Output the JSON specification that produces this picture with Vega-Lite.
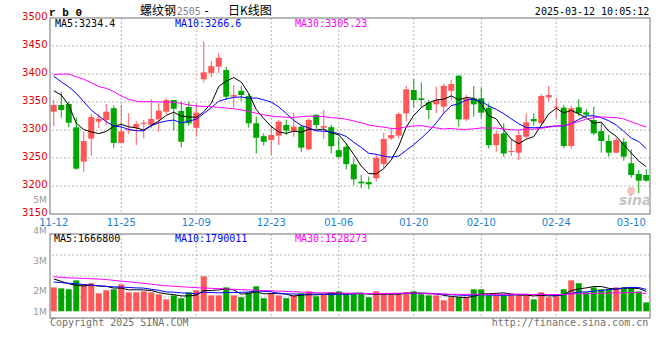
{
"$schema": "https://vega.github.io/schema/vega-lite/v6.json",
"background": "white",
"padding": {"left": 20, "top": 3, "right": 2, "bottom": 2},
"spacing": 20,
"bounds": "flush",
"config": {"view": {"stroke": "#a0a0a0", "strokeWidth": 1.5}, "font": "DejaVu Sans"},
"datasets": {
"k": [
{"d":"2024-11-12","o":3332.7,"h":3353.6,"l":3307,"c":3344.6,"v":1920000,"m5":3370,"m10":3396,"m30":3398.8,"vm5":2450000,"vm10":2260000,"vm30":2580000},
{"d":"2024-11-13","o":3344.6,"h":3368.5,"l":3322,"c":3335.7,"v":1860000,"m5":3362.5,"m10":3386,"m30":3400,"vm5":2300000,"vm10":2220000,"vm30":2550000},
{"d":"2024-11-14","o":3346.4,"h":3350.6,"l":3304.8,"c":3313,"v":1800000,"m5":3344.6,"m10":3377,"m30":3400,"vm5":2150000,"vm10":2180000,"vm30":2520000},
{"d":"2024-11-15","o":3304.8,"h":3322,"l":3229,"c":3231,"v":2360000,"m5":3312,"m10":3365.5,"m30":3395,"vm5":2050000,"vm10":2140000,"vm30":2500000},
{"d":"2024-11-18","o":3243.5,"h":3297,"l":3225.6,"c":3280.4,"v":2110000,"m5":3300.9,"m10":3350.6,"m30":3390.5,"vm5":2010000,"vm10":2100000,"vm30":2480000},
{"d":"2024-11-19","o":3284.5,"h":3328.6,"l":3254,"c":3323,"v":2180000,"m5":3296.6,"m10":3335.7,"m30":3384.5,"vm5":2062000,"vm10":2060000,"vm30":2460000},
{"d":"2024-11-20","o":3315,"h":3328.6,"l":3303,"c":3320,"v":1550000,"m5":3293.5,"m10":3325,"m30":3377.4,"vm5":2000000,"vm10":2020000,"vm30":2440000},
{"d":"2024-11-21","o":3318,"h":3346,"l":3309,"c":3332.7,"v":1740000,"m5":3297.4,"m10":3315,"m30":3374.4,"vm5":1988000,"vm10":1980000,"vm30":2410000},
{"d":"2024-11-22","o":3339,"h":3344,"l":3268,"c":3277,"v":1800000,"m5":3306.6,"m10":3307,"m30":3368.5,"vm5":1876000,"vm10":1950000,"vm30":2360000},
{"d":"2024-11-25","o":3277,"h":3344.6,"l":3277,"c":3297.6,"v":2110000,"m5":3310.1,"m10":3305.5,"m30":3360.7,"vm5":1876000,"vm10":1943000,"vm30":2310000},
{"d":"2024-11-26","o":3299,"h":3330,"l":3293,"c":3301,"v":1610000,"m5":3305.7,"m10":3301.1,"m30":3354.8,"vm5":1762000,"vm10":1912000,"vm30":2270000},
{"d":"2024-11-27","o":3304,"h":3316,"l":3273,"c":3310.7,"v":1610000,"m5":3303.8,"m10":3298.6,"m30":3351.2,"vm5":1774000,"vm10":1887000,"vm30":2220000},
{"d":"2024-11-28","o":3311,"h":3318,"l":3285,"c":3313,"v":1670000,"m5":3299.9,"m10":3298.6,"m30":3350.6,"vm5":1760000,"vm10":1874000,"vm30":2170000},
{"d":"2024-11-29","o":3309,"h":3355,"l":3303,"c":3319.6,"v":1610000,"m5":3308.4,"m10":3307.5,"m30":3350.6,"vm5":1722000,"vm10":1799000,"vm30":2120000},
{"d":"2024-12-02","o":3319,"h":3347.6,"l":3297,"c":3334.5,"v":1490000,"m5":3315.8,"m10":3312.9,"m30":3350,"vm5":1598000,"vm10":1737000,"vm30":2060000},
{"d":"2024-12-03","o":3332.7,"h":3356.5,"l":3328.6,"c":3353.6,"v":1170000,"m5":3326.3,"m10":3316,"m30":3350,"vm5":1510000,"vm10":1636000,"vm30":2020000},
{"d":"2024-12-04","o":3353.6,"h":3353.6,"l":3299,"c":3338,"v":1420000,"m5":3331.7,"m10":3317.8,"m30":3349.4,"vm5":1472000,"vm10":1623000,"vm30":1990000},
{"d":"2024-12-05","o":3334,"h":3350.6,"l":3269,"c":3279,"v":1240000,"m5":3324.9,"m10":3312.4,"m30":3347.6,"vm5":1386000,"vm10":1573000,"vm30":1960000},
{"d":"2024-12-06","o":3341,"h":3350,"l":3307.7,"c":3312,"v":1610000,"m5":3323.4,"m10":3315.9,"m30":3344.6,"vm5":1386000,"vm10":1554000,"vm30":1930000},
{"d":"2024-12-09","o":3304,"h":3347.6,"l":3288,"c":3331,"v":1740000,"m5":3322.7,"m10":3319.2,"m30":3342.9,"vm5":1436000,"vm10":1517000,"vm30":1900000},
{"d":"2024-12-10","o":3390.5,"h":3457.7,"l":3384.5,"c":3403,"v":2610000,"m5":3332.6,"m10":3329.4,"m30":3342,"vm5":1724000,"vm10":1617000,"vm30":1880000},
{"d":"2024-12-11","o":3402,"h":3423,"l":3395,"c":3414,"v":1420000,"m5":3347.8,"m10":3339.8,"m30":3341.5,"vm5":1724000,"vm10":1598000,"vm30":1860000},
{"d":"2024-12-12","o":3413,"h":3438,"l":3402,"c":3429,"v":1420000,"m5":3377.8,"m10":3351.4,"m30":3340.5,"vm5":1760000,"vm10":1573000,"vm30":1840000},
{"d":"2024-12-13","o":3407,"h":3413,"l":3353.6,"c":3359.5,"v":1920000,"m5":3387.3,"m10":3355.4,"m30":3339,"vm5":1822000,"vm10":1604000,"vm30":1820000},
{"d":"2024-12-16","o":3359.5,"h":3380,"l":3340,"c":3362.5,"v":1420000,"m5":3393.6,"m10":3358.2,"m30":3338,"vm5":1758000,"vm10":1597000,"vm30":1800000},
{"d":"2024-12-17","o":3370,"h":3378.6,"l":3352,"c":3362.5,"v":1300000,"m5":3385.5,"m10":3359.1,"m30":3336,"vm5":1496000,"vm10":1610000,"vm30":1780000},
{"d":"2024-12-18","o":3360.7,"h":3365.5,"l":3304,"c":3312,"v":1610000,"m5":3365.1,"m10":3356.5,"m30":3333,"vm5":1534000,"vm10":1629000,"vm30":1760000},
{"d":"2024-12-19","o":3312,"h":3324,"l":3258,"c":3286,"v":1990000,"m5":3336.5,"m10":3357.2,"m30":3330,"vm5":1648000,"vm10":1704000,"vm30":1740000},
{"d":"2024-12-20","o":3289,"h":3294,"l":3272,"c":3279,"v":1240000,"m5":3320.4,"m10":3353.9,"m30":3327,"vm5":1512000,"vm10":1667000,"vm30":1720000},
{"d":"2024-12-23","o":3282,"h":3308,"l":3255,"c":3291,"v":1550000,"m5":3306.1,"m10":3349.9,"m30":3324.9,"vm5":1538000,"vm10":1648000,"vm30":1703000},
{"d":"2024-12-24","o":3290,"h":3318,"l":3273,"c":3315,"v":1420000,"m5":3296.6,"m10":3341.1,"m30":3323.9,"vm5":1562000,"vm10":1529000,"vm30":1686000},
{"d":"2024-12-25","o":3309,"h":3318,"l":3291,"c":3299,"v":1240000,"m5":3294,"m10":3329.6,"m30":3322.7,"vm5":1488000,"vm10":1511000,"vm30":1665000},
{"d":"2024-12-26","o":3298,"h":3331,"l":3288,"c":3306,"v":1420000,"m5":3298,"m10":3317.3,"m30":3322.4,"vm5":1374000,"vm10":1511000,"vm30":1653000},
{"d":"2024-12-27","o":3306,"h":3309,"l":3261,"c":3268.5,"v":1550000,"m5":3295.9,"m10":3308.2,"m30":3323.7,"vm5":1436000,"vm10":1474000,"vm30":1626000},
{"d":"2024-12-30","o":3265.5,"h":3321,"l":3264,"c":3318,"v":1670000,"m5":3301.3,"m10":3303.7,"m30":3324.9,"vm5":1460000,"vm10":1499000,"vm30":1611000},
{"d":"2024-12-31","o":3327,"h":3328.6,"l":3302,"c":3309,"v":1360000,"m5":3300.1,"m10":3298.4,"m30":3324.5,"vm5":1448000,"vm10":1505000,"vm30":1584000},
{"d":"2025-01-02","o":3304,"h":3336,"l":3284,"c":3307,"v":1490000,"m5":3301.7,"m10":3297.9,"m30":3324,"vm5":1498000,"vm10":1493000,"vm30":1582000},
{"d":"2025-01-03","o":3305,"h":3309,"l":3258,"c":3271,"v":1610000,"m5":3294.7,"m10":3296.4,"m30":3322,"vm5":1536000,"vm10":1455000,"vm30":1577000},
{"d":"2025-01-06","o":3264,"h":3287,"l":3249,"c":3252,"v":1670000,"m5":3291.4,"m10":3293.7,"m30":3321.1,"vm5":1560000,"vm10":1498000,"vm30":1573000},
{"d":"2025-01-07","o":3270,"h":3277,"l":3230,"c":3239,"v":1490000,"m5":3275.6,"m10":3288.5,"m30":3319.2,"vm5":1524000,"vm10":1492000,"vm30":1552000},
{"d":"2025-01-08","o":3238.7,"h":3249.4,"l":3201.8,"c":3211.9,"v":1490000,"m5":3256.2,"m10":3278.1,"m30":3316.2,"vm5":1550000,"vm10":1499000,"vm30":1548000},
{"d":"2025-01-09","o":3207.7,"h":3219.6,"l":3196,"c":3204.8,"v":1550000,"m5":3235.7,"m10":3268.7,"m30":3312.7,"vm5":1562000,"vm10":1530000,"vm30":1546000},
{"d":"2025-01-10","o":3207,"h":3216.7,"l":3194,"c":3203,"v":1300000,"m5":3222.1,"m10":3258.4,"m30":3309,"vm5":1500000,"vm10":1518000,"vm30":1534000},
{"d":"2025-01-13","o":3213.7,"h":3256.5,"l":3207.7,"c":3250.6,"v":1670000,"m5":3221.9,"m10":3256.6,"m30":3306.7,"vm5":1500000,"vm10":1530000,"vm30":1536000},
{"d":"2025-01-14","o":3239,"h":3295,"l":3231.5,"c":3284,"v":1490000,"m5":3230.9,"m10":3253.2,"m30":3305,"vm5":1500000,"vm10":1512000,"vm30":1536000},
{"d":"2025-01-15","o":3285,"h":3303,"l":3282,"c":3291,"v":1490000,"m5":3246.7,"m10":3251.4,"m30":3302.9,"vm5":1500000,"vm10":1525000,"vm30":1547000},
{"d":"2025-01-16","o":3290,"h":3331.5,"l":3285,"c":3328.6,"v":1550000,"m5":3271.4,"m10":3253.6,"m30":3302.6,"vm5":1500000,"vm10":1531000,"vm30":1551000},
{"d":"2025-01-17","o":3329.8,"h":3378.6,"l":3315,"c":3372.6,"v":1610000,"m5":3305.4,"m10":3263.8,"m30":3305.8,"vm5":1562000,"vm10":1531000,"vm30":1563000},
{"d":"2025-01-20","o":3371.4,"h":3391,"l":3340,"c":3353.6,"v":1670000,"m5":3326,"m10":3273.9,"m30":3307.1,"vm5":1562000,"vm10":1531000,"vm30":1565000},
{"d":"2025-01-21","o":3356.5,"h":3385,"l":3340,"c":3353.6,"v":1490000,"m5":3339.9,"m10":3285.4,"m30":3307.9,"vm5":1562000,"vm10":1531000,"vm30":1557000},
{"d":"2025-01-22","o":3349.4,"h":3353.6,"l":3319.6,"c":3335.7,"v":1420000,"m5":3348.8,"m10":3297.8,"m30":3305.6,"vm5":1548000,"vm10":1524000,"vm30":1517000},
{"d":"2025-01-23","o":3345.8,"h":3377.4,"l":3329.8,"c":3353.6,"v":1420000,"m5":3353.8,"m10":3312.6,"m30":3303.6,"vm5":1522000,"vm10":1511000,"vm30":1517000},
{"d":"2025-01-24","o":3341.7,"h":3383,"l":3328,"c":3379,"v":1110000,"m5":3355.1,"m10":3330.2,"m30":3302,"vm5":1422000,"vm10":1492000,"vm30":1507000},
{"d":"2025-01-27","o":3370,"h":3389,"l":3353.6,"c":3382,"v":1300000,"m5":3360.8,"m10":3343.4,"m30":3302.7,"vm5":1348000,"vm10":1455000,"vm30":1486000},
{"d":"2025-02-05","o":3397,"h":3398,"l":3306,"c":3319,"v":1300000,"m5":3353.9,"m10":3346.9,"m30":3301.3,"vm5":1310000,"vm10":1436000,"vm30":1482000},
{"d":"2025-02-06","o":3319,"h":3362.5,"l":3316,"c":3356.5,"v":1300000,"m5":3358,"m10":3353.4,"m30":3301.1,"vm5":1286000,"vm10":1417000,"vm30":1482000},
{"d":"2025-02-07","o":3356.5,"h":3378.6,"l":3323.8,"c":3345.8,"v":1800000,"m5":3356.5,"m10":3355.1,"m30":3302.2,"vm5":1362000,"vm10":1442000,"vm30":1489000},
{"d":"2025-02-10","o":3356.5,"h":3375.6,"l":3320.8,"c":3331,"v":1800000,"m5":3346.9,"m10":3351,"m30":3303.7,"vm5":1500000,"vm10":1461000,"vm30":1482000},
{"d":"2025-02-11","o":3340,"h":3347.6,"l":3267,"c":3273,"v":1420000,"m5":3325.1,"m10":3342.9,"m30":3303.5,"vm5":1524000,"vm10":1436000,"vm30":1488000},
{"d":"2025-02-12","o":3273,"h":3298,"l":3261,"c":3293,"v":1420000,"m5":3319.9,"m10":3336.9,"m30":3303.6,"vm5":1548000,"vm10":1429000,"vm30":1484000},
{"d":"2025-02-13","o":3294,"h":3312,"l":3252,"c":3258,"v":1420000,"m5":3300.2,"m10":3329.1,"m30":3301.7,"vm5":1572000,"vm10":1429000,"vm30":1484000},
{"d":"2025-02-14","o":3260.7,"h":3283.3,"l":3253.6,"c":3262.5,"v":1490000,"m5":3283.5,"m10":3320,"m30":3300.4,"vm5":1510000,"vm10":1436000,"vm30":1492000},
{"d":"2025-02-17","o":3259.5,"h":3300,"l":3246.4,"c":3291,"v":1420000,"m5":3275.5,"m10":3311.2,"m30":3299.9,"vm5":1434000,"vm10":1467000,"vm30":1492000},
{"d":"2025-02-18","o":3288,"h":3329.8,"l":3285,"c":3313.7,"v":1420000,"m5":3283.6,"m10":3304.4,"m30":3301.5,"vm5":1434000,"vm10":1479000,"vm30":1488000},
{"d":"2025-02-19","o":3319.6,"h":3329.8,"l":3307.7,"c":3315.5,"v":1170000,"m5":3288.1,"m10":3304,"m30":3301.4,"vm5":1384000,"vm10":1466000,"vm30":1471000},
{"d":"2025-02-20","o":3312,"h":3364,"l":3310,"c":3360.7,"v":1610000,"m5":3308.7,"m10":3304.4,"m30":3303.1,"vm5":1422000,"vm10":1497000,"vm30":1480000},
{"d":"2025-02-21","o":3358.3,"h":3378.6,"l":3351,"c":3362.5,"v":1300000,"m5":3328.7,"m10":3306.1,"m30":3305,"vm5":1384000,"vm10":1447000,"vm30":1473000},
{"d":"2025-02-24","o":3339.9,"h":3357,"l":3321,"c":3341.7,"v":1490000,"m5":3338.8,"m10":3307.2,"m30":3307.3,"vm5":1398000,"vm10":1416000,"vm30":1469000},
{"d":"2025-02-25","o":3339.9,"h":3344.6,"l":3267.3,"c":3271.4,"v":1800000,"m5":3330.4,"m10":3307,"m30":3307.9,"vm5":1474000,"vm10":1454000,"vm30":1474000},
{"d":"2025-02-26","o":3271.4,"h":3343,"l":3267,"c":3338.7,"v":2360000,"m5":3335,"m10":3311.6,"m30":3311.3,"vm5":1712000,"vm10":1548000,"vm30":1503000},
{"d":"2025-02-27","o":3340.5,"h":3354.8,"l":3325,"c":3329.8,"v":2180000,"m5":3328.8,"m10":3318.8,"m30":3315.2,"vm5":1826000,"vm10":1624000,"vm30":1526000},
{"d":"2025-02-28","o":3331.5,"h":3337,"l":3323.8,"c":3327.4,"v":1610000,"m5":3321.8,"m10":3325.2,"m30":3319.3,"vm5":1888000,"vm10":1636000,"vm30":1528000},
{"d":"2025-03-03","o":3317.9,"h":3341.7,"l":3291,"c":3294,"v":1920000,"m5":3312.3,"m10":3325.5,"m30":3322.3,"vm5":1974000,"vm10":1686000,"vm30":1548000},
{"d":"2025-03-04","o":3298,"h":3312,"l":3259.5,"c":3280.4,"v":1800000,"m5":3314.1,"m10":3322.2,"m30":3323.3,"vm5":1974000,"vm10":1724000,"vm30":1553000},
{"d":"2025-03-05","o":3280.4,"h":3291,"l":3252.4,"c":3259.5,"v":1800000,"m5":3298.2,"m10":3316.6,"m30":3322.5,"vm5":1862000,"vm10":1787000,"vm30":1563000},
{"d":"2025-03-06","o":3259.5,"h":3286.3,"l":3258.3,"c":3282,"v":1920000,"m5":3288.7,"m10":3308.7,"m30":3322.2,"vm5":1810000,"vm10":1818000,"vm30":1577000},
{"d":"2025-03-07","o":3279,"h":3285,"l":3245.2,"c":3252.4,"v":1920000,"m5":3273.7,"m10":3297.7,"m30":3319.7,"vm5":1872000,"vm10":1880000,"vm30":1590000},
{"d":"2025-03-10","o":3240.5,"h":3265.5,"l":3215,"c":3219.6,"v":1920000,"m5":3258.8,"m10":3285.5,"m30":3314.6,"vm5":1872000,"vm10":1923000,"vm30":1600000},
{"d":"2025-03-11","o":3221.4,"h":3228.6,"l":3187,"c":3209.5,"v":1670000,"m5":3244.6,"m10":3279.3,"m30":3309.8,"vm5":1846000,"vm10":1910000,"vm30":1600000},
{"d":"2025-03-12","o":3219.6,"h":3229.8,"l":3207.7,"c":3209.5,"v":980000,"m5":3234.4,"m10":3266.6,"m30":3305.2,"vm5":1666800,"vm10":1790011,"vm30":1528273}
],
"grid": [{"d":"2024-11-25"},{"d":"2024-12-09"},{"d":"2024-12-23"},{"d":"2025-01-06"},{"d":"2025-01-20"},{"d":"2025-02-10"},{"d":"2025-02-24"}],
"hgrid": [{"p":3200},{"p":3250},{"p":3300},{"p":3350},{"p":3400},{"p":3450}],
"vgrid": [{"v":1316600},{"v":2633200},{"v":3949800}]
},
"vconcat": [
{
"width": 600, "height": 196,
"layer": [
{"data": {"name": "grid"}, "mark": {"type": "rule", "stroke": "#b4b4b4", "strokeDash": [2, 2], "strokeWidth": 1},
 "encoding": {"x": {"field": "d", "type": "ordinal", "scale": {"type": "band", "paddingInner": 0, "paddingOuter": 0},
   "axis": {"values": ["2024-11-12","2024-11-25","2024-12-09","2024-12-23","2025-01-06","2025-01-20","2025-02-10","2025-02-24","2025-03-10"], "labelExpr": "substring(datum.value, 5, 10)", "labelColor": "#1a82d4", "labelFont": "DejaVu Sans", "labelFontSize": 10, "labelPadding": 3, "labelAngle": 0, "labelOverlap": false, "grid": false, "ticks": false, "domain": false, "title": null}}}},
{"data": {"name": "hgrid"}, "mark": {"type": "rule", "stroke": "#b4b4b4", "strokeDash": [2, 2], "strokeWidth": 1},
 "encoding": {"y": {"field": "p", "type": "quantitative", "scale": {"domain": [3150, 3500], "nice": false, "zero": false},
   "axis": {"values": [3150, 3200, 3250, 3300, 3350, 3400, 3450, 3500], "tickCount": 20, "format": "d", "labelColor": "#e60000", "labelFont": "DejaVu Sans", "labelFontSize": 10, "labelPadding": 3, "labelOffset": -2, "labelOverlap": false, "labelFlush": false, "grid": false, "ticks": false, "domain": false, "title": null}}}},
{"data": {"name": "k"}, "mark": {"type": "rule", "strokeWidth": 1},
 "encoding": {"x": {"field": "d", "type": "ordinal", "scale": {"type": "band", "paddingInner": 0, "paddingOuter": 0}},
  "y": {"field": "l", "type": "quantitative", "scale": {"domain": [3150, 3500], "nice": false, "zero": false}},
  "y2": {"field": "h"},
  "color": {"condition": {"test": "datum.c >= datum.o", "value": "#ff5757"}, "value": "#00a600"}}},
{"data": {"name": "k"}, "mark": {"type": "bar", "width": 6},
 "encoding": {"x": {"field": "d", "type": "ordinal", "scale": {"type": "band", "paddingInner": 0, "paddingOuter": 0}},
  "y": {"field": "o", "type": "quantitative", "scale": {"domain": [3150, 3500], "nice": false, "zero": false}},
  "y2": {"field": "c"},
  "color": {"condition": {"test": "datum.c >= datum.o", "value": "#ff5757"}, "value": "#00a600"}}},
{"data": {"name": "k"}, "mark": {"type": "line", "color": "#000000", "strokeWidth": 1},
 "encoding": {"x": {"field": "d", "type": "ordinal", "scale": {"type": "band", "paddingInner": 0, "paddingOuter": 0}},
  "y": {"field": "m5", "type": "quantitative", "scale": {"domain": [3150, 3500], "nice": false, "zero": false}}}},
{"data": {"name": "k"}, "mark": {"type": "line", "color": "#0000ff", "strokeWidth": 1},
 "encoding": {"x": {"field": "d", "type": "ordinal", "scale": {"type": "band", "paddingInner": 0, "paddingOuter": 0}},
  "y": {"field": "m10", "type": "quantitative", "scale": {"domain": [3150, 3500], "nice": false, "zero": false}}}},
{"data": {"name": "k"}, "mark": {"type": "line", "color": "#ff00ff", "strokeWidth": 1},
 "encoding": {"x": {"field": "d", "type": "ordinal", "scale": {"type": "band", "paddingInner": 0, "paddingOuter": 0}},
  "y": {"field": "m30", "type": "quantitative", "scale": {"domain": [3150, 3500], "nice": false, "zero": false}}}},
{"data": {"values": [{}]}, "mark": {"type": "text", "text": "MA5:3234.4", "align": "left", "baseline": "alphabetic", "dx": 1.25, "font": "DejaVu Sans Mono", "fontSize": 10, "color": "#000000"},
 "encoding": {"x": {"datum": "2024-11-12", "type": "ordinal", "scale": {"type": "band", "paddingInner": 0, "paddingOuter": 0}},
  "y": {"datum": 3483.4, "type": "quantitative", "scale": {"domain": [3150, 3500], "nice": false, "zero": false}}}},
{"data": {"values": [{}]}, "mark": {"type": "text", "text": "MA10:3266.6", "align": "left", "baseline": "alphabetic", "dx": 1.25, "font": "DejaVu Sans Mono", "fontSize": 10, "color": "#0000ff"},
 "encoding": {"x": {"datum": "2024-12-04", "type": "ordinal", "scale": {"type": "band", "paddingInner": 0, "paddingOuter": 0}},
  "y": {"datum": 3483.4, "type": "quantitative", "scale": {"domain": [3150, 3500], "nice": false, "zero": false}}}},
{"data": {"values": [{}]}, "mark": {"type": "text", "text": "MA30:3305.23", "align": "left", "baseline": "alphabetic", "dx": 1.25, "font": "DejaVu Sans Mono", "fontSize": 10, "color": "#ff00ff"},
 "encoding": {"x": {"datum": "2024-12-26", "type": "ordinal", "scale": {"type": "band", "paddingInner": 0, "paddingOuter": 0}},
  "y": {"datum": 3483.4, "type": "quantitative", "scale": {"domain": [3150, 3500], "nice": false, "zero": false}}}},
{"data": {"values": [{}]}, "mark": {"type": "text", "text": "r b 0", "align": "left", "baseline": "alphabetic", "dx": -4.75, "font": "Liberation Mono", "fontWeight": "bold", "fontSize": 11, "color": "#000000"},
 "encoding": {"x": {"datum": "2024-11-12", "type": "ordinal", "scale": {"type": "band", "paddingInner": 0, "paddingOuter": 0}},
  "y": {"datum": 3503.6, "type": "quantitative", "scale": {"domain": [3150, 3500], "nice": false, "zero": false}}}},
{"data": {"values": [{}]}, "mark": {"type": "text", "text": "螺纹钢", "align": "left", "baseline": "alphabetic", "dx": 3.75, "font": "Noto Sans CJK SC", "fontSize": 12, "color": "#000000"},
 "encoding": {"x": {"datum": "2024-11-27", "type": "ordinal", "scale": {"type": "band", "paddingInner": 0, "paddingOuter": 0}},
  "y": {"datum": 3506, "type": "quantitative", "scale": {"domain": [3150, 3500], "nice": false, "zero": false}}}},
{"data": {"values": [{}]}, "mark": {"type": "text", "text": "2505", "align": "left", "baseline": "alphabetic", "dx": 3, "font": "DejaVu Sans Mono", "fontSize": 10, "color": "#808080"},
 "encoding": {"x": {"datum": "2024-12-04", "type": "ordinal", "scale": {"type": "band", "paddingInner": 0, "paddingOuter": 0}},
  "y": {"datum": 3506, "type": "quantitative", "scale": {"domain": [3150, 3500], "nice": false, "zero": false}}}},
{"data": {"values": [{}]}, "mark": {"type": "text", "text": "-", "align": "left", "baseline": "alphabetic", "dx": -0.75, "font": "DejaVu Sans Mono", "fontSize": 12, "color": "#000000"},
 "encoding": {"x": {"datum": "2024-12-10", "type": "ordinal", "scale": {"type": "band", "paddingInner": 0, "paddingOuter": 0}},
  "y": {"datum": 3506, "type": "quantitative", "scale": {"domain": [3150, 3500], "nice": false, "zero": false}}}},
{"data": {"values": [{}]}, "mark": {"type": "text", "text": "日K线图", "align": "left", "baseline": "alphabetic", "dx": 1.75, "font": "Noto Sans CJK SC", "fontSize": 12, "color": "#000000"},
 "encoding": {"x": {"datum": "2024-12-13", "type": "ordinal", "scale": {"type": "band", "paddingInner": 0, "paddingOuter": 0}},
  "y": {"datum": 3506, "type": "quantitative", "scale": {"domain": [3150, 3500], "nice": false, "zero": false}}}},
{"data": {"values": [{}]}, "mark": {"type": "text", "text": "2025-03-12 10:05:12", "align": "right", "baseline": "alphabetic", "dx": 3, "font": "DejaVu Sans Mono", "fontSize": 10, "color": "#000000"},
 "encoding": {"x": {"datum": "2025-03-12", "type": "ordinal", "scale": {"type": "band", "paddingInner": 0, "paddingOuter": 0}},
  "y": {"datum": 3505.4, "type": "quantitative", "scale": {"domain": [3150, 3500], "nice": false, "zero": false}}}},
{"data": {"values": [{}]}, "mark": {"type": "point", "filled": true, "size": 70, "color": "#f2b4b4", "opacity": 0.8},
 "encoding": {"x": {"datum": "2025-03-10", "type": "ordinal", "scale": {"type": "band", "paddingInner": 0, "paddingOuter": 0}},
  "y": {"datum": 3191, "type": "quantitative", "scale": {"domain": [3150, 3500], "nice": false, "zero": false}}}},
{"data": {"values": [{}]}, "mark": {"type": "text", "text": "sina", "align": "center", "baseline": "alphabetic", "dx": 4, "font": "DejaVu Sans", "fontStyle": "italic", "fontWeight": "bold", "fontSize": 14, "color": "#c4c4c4"},
 "encoding": {"x": {"datum": "2025-03-10", "type": "ordinal", "scale": {"type": "band", "paddingInner": 0, "paddingOuter": 0}},
  "y": {"datum": 3166, "type": "quantitative", "scale": {"domain": [3150, 3500], "nice": false, "zero": false}}}}
]
},
{
"width": 600, "height": 84,
"layer": [
{"data": {"name": "grid"}, "mark": {"type": "rule", "stroke": "#b4b4b4", "strokeDash": [2, 2], "strokeWidth": 1},
 "encoding": {"x": {"field": "d", "type": "ordinal", "scale": {"type": "band", "paddingInner": 0, "paddingOuter": 0}, "axis": null}}},
{"data": {"name": "vgrid"}, "mark": {"type": "rule", "stroke": "#b4b4b4", "strokeDash": [2, 2], "strokeWidth": 1},
 "encoding": {"y": {"field": "v", "type": "quantitative", "scale": {"domain": [0, 5266400], "nice": false, "zero": false}, "axis": null}}},
{"data": {"name": "k"}, "mark": {"type": "bar", "width": 6},
 "encoding": {"x": {"field": "d", "type": "ordinal", "scale": {"type": "band", "paddingInner": 0, "paddingOuter": 0}, "axis": null},
  "y": {"field": "v", "type": "quantitative", "scale": {"domain": [0, 5266400], "nice": false, "zero": false}, "axis": null},
  "y2": {"datum": 420000},
  "color": {"condition": {"test": "datum.c >= datum.o", "value": "#ff5757"}, "value": "#00a600"}}},
{"data": {"name": "k"}, "mark": {"type": "line", "color": "#000000", "strokeWidth": 1},
 "encoding": {"x": {"field": "d", "type": "ordinal", "scale": {"type": "band", "paddingInner": 0, "paddingOuter": 0}, "axis": null},
  "y": {"field": "vm5", "type": "quantitative", "scale": {"domain": [0, 5266400], "nice": false, "zero": false}, "axis": null}}},
{"data": {"name": "k"}, "mark": {"type": "line", "color": "#0000ff", "strokeWidth": 1},
 "encoding": {"x": {"field": "d", "type": "ordinal", "scale": {"type": "band", "paddingInner": 0, "paddingOuter": 0}, "axis": null},
  "y": {"field": "vm10", "type": "quantitative", "scale": {"domain": [0, 5266400], "nice": false, "zero": false}, "axis": null}}},
{"data": {"name": "k"}, "mark": {"type": "line", "color": "#ff00ff", "strokeWidth": 1},
 "encoding": {"x": {"field": "d", "type": "ordinal", "scale": {"type": "band", "paddingInner": 0, "paddingOuter": 0}, "axis": null},
  "y": {"field": "vm30", "type": "quantitative", "scale": {"domain": [0, 5266400], "nice": false, "zero": false}, "axis": null}}},
{"data": {"values": [{}]}, "mark": {"type": "text", "text": "MA5:1666800", "align": "left", "baseline": "alphabetic", "dx": 0.25, "font": "DejaVu Sans Mono", "fontSize": 10, "color": "#000000"},
 "encoding": {"x": {"datum": "2024-11-12", "type": "ordinal", "scale": {"type": "band", "paddingInner": 0, "paddingOuter": 0}, "axis": null},
  "y": {"datum": 4784000, "type": "quantitative", "scale": {"domain": [0, 5266400], "nice": false, "zero": false}, "axis": null}}},
{"data": {"values": [{}]}, "mark": {"type": "text", "text": "MA10:1790011", "align": "left", "baseline": "alphabetic", "dx": 1.25, "font": "DejaVu Sans Mono", "fontSize": 10, "color": "#0000ff"},
 "encoding": {"x": {"datum": "2024-12-04", "type": "ordinal", "scale": {"type": "band", "paddingInner": 0, "paddingOuter": 0}, "axis": null},
  "y": {"datum": 4784000, "type": "quantitative", "scale": {"domain": [0, 5266400], "nice": false, "zero": false}, "axis": null}}},
{"data": {"values": [{}]}, "mark": {"type": "text", "text": "MA30:1528273", "align": "left", "baseline": "alphabetic", "dx": 1.25, "font": "DejaVu Sans Mono", "fontSize": 10, "color": "#ff00ff"},
 "encoding": {"x": {"datum": "2024-12-26", "type": "ordinal", "scale": {"type": "band", "paddingInner": 0, "paddingOuter": 0}, "axis": null},
  "y": {"datum": 4784000, "type": "quantitative", "scale": {"domain": [0, 5266400], "nice": false, "zero": false}, "axis": null}}},
{"data": {"values": [{"t": "5M", "v": 7190000}, {"t": "4M", "v": 5266000}, {"t": "3M", "v": 3386000}, {"t": "2M", "v": 1505000}, {"t": "1M", "v": 188000}]},
 "mark": {"type": "text", "align": "right", "baseline": "alphabetic", "dx": -7, "font": "DejaVu Sans", "fontSize": 9, "color": "#999999"},
 "encoding": {"x": {"datum": "2024-11-12", "type": "ordinal", "scale": {"type": "band", "paddingInner": 0, "paddingOuter": 0}, "axis": null},
  "y": {"field": "v", "type": "quantitative", "scale": {"domain": [0, 5266400], "nice": false, "zero": false}, "axis": null},
  "text": {"field": "t"}}},
{"data": {"values": [{}]}, "mark": {"type": "text", "text": "Copyright 2025 SINA.COM", "align": "left", "baseline": "alphabetic", "dx": -3.75, "font": "DejaVu Sans Mono", "fontSize": 10, "color": "#707070"},
 "encoding": {"x": {"datum": "2024-11-12", "type": "ordinal", "scale": {"type": "band", "paddingInner": 0, "paddingOuter": 0}, "axis": null},
  "y": {"datum": -500000, "type": "quantitative", "scale": {"domain": [0, 5266400], "nice": false, "zero": false}, "axis": null}}},
{"data": {"values": [{}]}, "mark": {"type": "text", "text": "http://finance.sina.com.cn", "align": "right", "baseline": "alphabetic", "dx": 2, "font": "DejaVu Sans Mono", "fontSize": 10, "color": "#707070"},
 "encoding": {"x": {"datum": "2025-03-12", "type": "ordinal", "scale": {"type": "band", "paddingInner": 0, "paddingOuter": 0}, "axis": null},
  "y": {"datum": -500000, "type": "quantitative", "scale": {"domain": [0, 5266400], "nice": false, "zero": false}, "axis": null}}}
]
}
]
}
